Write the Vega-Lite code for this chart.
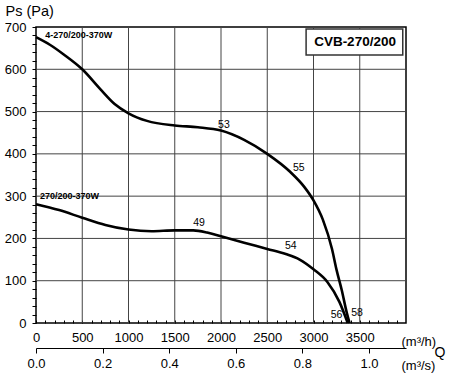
{
  "$schema": "https://vega.github.io/schema/vega-lite/v6.json",
  "width": 370,
  "height": 296,
  "autosize": {"type": "none"},
  "padding": {"left": 36, "top": 27, "right": 44, "bottom": 52},
  "background": "white",
  "config": {
    "font": "Liberation Sans",
    "view": {"stroke": "#000", "strokeWidth": 1.5},
    "axis": {"labelColor": "#000", "tickColor": "#000", "labelFontSize": 13, "labelFont": "Liberation Sans", "titleFont": "Liberation Sans", "titleColor": "#000", "titleFontWeight": "normal", "labelOverlap": false, "labelFlush": false}
  },
  "datasets": {
    "curves": [
      {"curve": "A", "q": 0, "p": 676}, {"curve": "A", "q": 150, "p": 658}, {"curve": "A", "q": 300, "p": 635},
      {"curve": "A", "q": 500, "p": 600}, {"curve": "A", "q": 700, "p": 552}, {"curve": "A", "q": 850, "p": 518},
      {"curve": "A", "q": 1000, "p": 496}, {"curve": "A", "q": 1200, "p": 478}, {"curve": "A", "q": 1500, "p": 467},
      {"curve": "A", "q": 1750, "p": 463}, {"curve": "A", "q": 2000, "p": 455}, {"curve": "A", "q": 2250, "p": 433},
      {"curve": "A", "q": 2500, "p": 400}, {"curve": "A", "q": 2750, "p": 357}, {"curve": "A", "q": 2900, "p": 322},
      {"curve": "A", "q": 3000, "p": 290}, {"curve": "A", "q": 3100, "p": 245}, {"curve": "A", "q": 3200, "p": 175},
      {"curve": "A", "q": 3250, "p": 125}, {"curve": "A", "q": 3305, "p": 78}, {"curve": "A", "q": 3360, "p": 24},
      {"curve": "A", "q": 3390, "p": 0},
      {"curve": "B", "q": 0, "p": 281}, {"curve": "B", "q": 250, "p": 267}, {"curve": "B", "q": 500, "p": 249},
      {"curve": "B", "q": 750, "p": 232}, {"curve": "B", "q": 1000, "p": 221}, {"curve": "B", "q": 1250, "p": 217},
      {"curve": "B", "q": 1500, "p": 219}, {"curve": "B", "q": 1700, "p": 219}, {"curve": "B", "q": 1850, "p": 214},
      {"curve": "B", "q": 2000, "p": 205}, {"curve": "B", "q": 2250, "p": 190}, {"curve": "B", "q": 2500, "p": 175},
      {"curve": "B", "q": 2700, "p": 163}, {"curve": "B", "q": 2850, "p": 150}, {"curve": "B", "q": 3000, "p": 127},
      {"curve": "B", "q": 3150, "p": 97}, {"curve": "B", "q": 3280, "p": 50}, {"curve": "B", "q": 3370, "p": 0}
    ],
    "nums": [
      {"q": 2032, "p": 469, "t": "53"}, {"q": 2841, "p": 366, "t": "55"}, {"q": 1762, "p": 237, "t": "49"},
      {"q": 2754, "p": 183, "t": "54"}, {"q": 3250, "p": 18, "t": "56"}, {"q": 3470, "p": 23, "t": "58"}
    ],
    "names": [
      {"q": 99, "p": 681, "t": "4-270/200-370W"}, {"q": 43, "p": 300, "t": "270/200-370W"}
    ],
    "xgrid": [{"q": 500}, {"q": 1000}, {"q": 1500}, {"q": 2000}, {"q": 2500}, {"q": 3000}, {"q": 3500}],
    "ygrid": [{"p": 100}, {"p": 200}, {"p": 300}, {"p": 400}, {"p": 500}, {"p": 600}]
  },
  "layer": [
    {
      "layer": [
        {
          "data": {"name": "xgrid"},
          "mark": {"type": "rule", "color": "#444", "strokeWidth": 1},
          "encoding": {
            "x": {
              "field": "q", "type": "quantitative",
              "scale": {"domain": [0, 4000], "nice": false, "zero": false},
              "axis": {
                "values": [0,100,200,300,400,500,600,700,800,900,1000,1100,1200,1300,1400,1500,1600,1700,1800,1900,2000,2100,2200,2300,2400,2500,2600,2700,2800,2900,3000,3100,3200,3300,3400,3500,3600,3700,3800,3900],
                "tickCount": 100,
                "labelExpr": "datum.value % 500 === 0 ? format(datum.value, 'd') : ''",
                "grid": false,
                "domain": false,
                "tickSize": -3,
                "labelPadding": 11,
                "title": "(m³/h)",
                "titleFontSize": 13,
                "titleAlign": "left",
                "titleBaseline": "alphabetic",
                "titleX": 365,
                "titleY": 22
              }
            }
          }
        },
        {
          "data": {"name": "ygrid"},
          "mark": {"type": "rule", "color": "#444", "strokeWidth": 1},
          "encoding": {
            "y": {
              "field": "p", "type": "quantitative",
              "scale": {"domain": [0, 700], "nice": false},
              "axis": {
                "values": [0,20,40,60,80,100,120,140,160,180,200,220,240,260,280,300,320,340,360,380,400,420,440,460,480,500,520,540,560,580,600,620,640,660,680,700],
                "tickCount": 100,
                "labelExpr": "datum.value % 100 === 0 ? format(datum.value, 'd') : ''",
                "grid": false,
                "domain": false,
                "tickSize": 4,
                "labelPadding": 6,
                "title": "Ps  (Pa)",
                "titleFontSize": 14.5,
                "titleAngle": 0,
                "titleAlign": "left",
                "titleBaseline": "alphabetic",
                "titleX": -31,
                "titleY": -12
              }
            }
          }
        },
        {
          "data": {"name": "curves"},
          "mark": {"type": "line", "interpolate": "monotone", "color": "#000", "strokeWidth": 2.6},
          "encoding": {
            "x": {"field": "q", "type": "quantitative"},
            "y": {"field": "p", "type": "quantitative"},
            "detail": {"field": "curve"}
          }
        },
        {
          "data": {"name": "nums"},
          "mark": {"type": "text", "fontSize": 10.5, "color": "#000", "baseline": "middle", "align": "center"},
          "encoding": {
            "x": {"field": "q", "type": "quantitative"},
            "y": {"field": "p", "type": "quantitative"},
            "text": {"field": "t"}
          }
        },
        {
          "data": {"name": "names"},
          "mark": {"type": "text", "fontSize": 9, "fontWeight": "bold", "color": "#000", "baseline": "middle", "align": "left"},
          "encoding": {
            "x": {"field": "q", "type": "quantitative"},
            "y": {"field": "p", "type": "quantitative"},
            "text": {"field": "t"}
          }
        },
        {
          "data": {"values": [{"q1": 2920, "q2": 3965, "p1": 634, "p2": 695}]},
          "mark": {"type": "rect", "fill": "white", "stroke": "#333", "strokeWidth": 1.5},
          "encoding": {
            "x": {"field": "q1", "type": "quantitative"},
            "x2": {"field": "q2"},
            "y": {"field": "p1", "type": "quantitative"},
            "y2": {"field": "p2"}
          }
        },
        {
          "data": {"values": [{"q": 3449, "p": 664, "t": "CVB-270/200"}]},
          "mark": {"type": "text", "fontSize": 13.5, "fontWeight": "bold", "color": "#000", "baseline": "middle", "align": "center"},
          "encoding": {
            "x": {"field": "q", "type": "quantitative"},
            "y": {"field": "p", "type": "quantitative"},
            "text": {"field": "t"}
          }
        },
        {
          "data": {"values": [{"q": 4368, "p": -80, "t": "Q"}]},
          "mark": {"type": "text", "fontSize": 14, "color": "#000", "baseline": "alphabetic", "align": "center"},
          "encoding": {
            "x": {"field": "q", "type": "quantitative"},
            "y": {"field": "p", "type": "quantitative"},
            "text": {"field": "t"}
          }
        }
      ]
    },
    {
      "data": {"values": [{"q": 0}, {"q": 3600}]},
      "mark": {"type": "point", "opacity": 0},
      "encoding": {
        "x": {
          "field": "q", "type": "quantitative",
          "axis": {
            "orient": "bottom",
            "offset": 25,
            "values": [0, 720, 1440, 2160, 2880, 3600],
            "tickCount": 100,
            "labelExpr": "format(datum.value / 3600, '.1f')",
            "grid": false,
            "domain": true,
            "domainColor": "#000",
            "domainWidth": 1.2,
            "tickSize": 5,
            "labelPadding": 4,
            "title": "(m³/s)",
            "titleFontSize": 13,
            "titleAlign": "left",
            "titleBaseline": "alphabetic",
            "titleX": 365,
            "titleY": 21
          }
        }
      }
    }
  ],
  "resolve": {"axis": {"x": "independent"}}
}
